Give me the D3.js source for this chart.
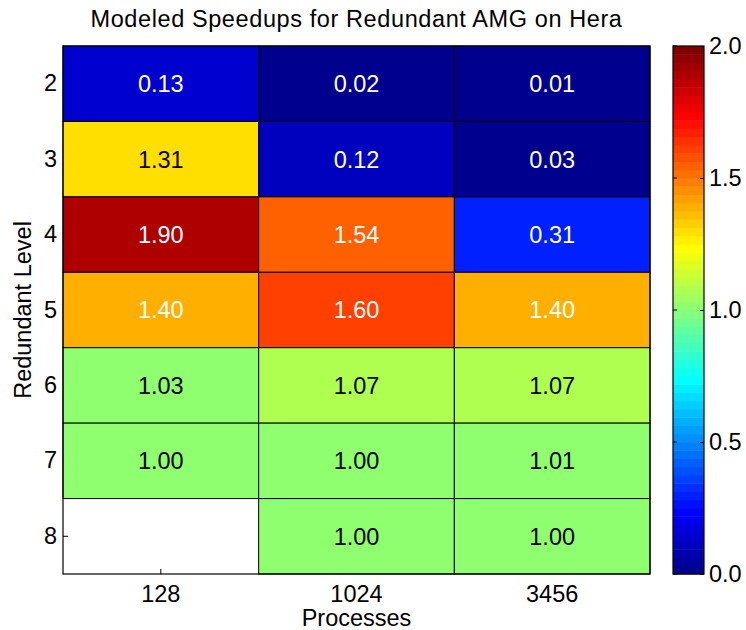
<!DOCTYPE html>
<html>
<head>
<meta charset="utf-8">
<script src="https://cdn.jsdelivr.net/npm/d3@7"></script>
<style>
  body { margin: 0; background: #fff; }
  text { font-family: "Liberation Sans", Arial, Helvetica, sans-serif; }
</style>
</head>
<body>
<div id="chart"></div>
<script>
// data
var levels = [2, 3, 4, 5, 6, 7, 8];
var procs = ["128", "1024", "3456"];
var speedup128  = [0.13, 1.31, 1.90, 1.40, 1.03, 1.00, null];
var speedup1024 = [0.02, 0.12, 1.54, 1.60, 1.07, 1.00, 1.00];
var speedup3456 = [0.01, 0.03, 0.31, 1.40, 1.07, 1.01, 1.00];
var cbTicks = [0, 0.5, 1, 1.5, 2];

var series = [speedup128, speedup1024, speedup3456];
var FS = 23.5;

// matlab jet(64)
function jet64() {
  var m = 64, n = 16, u = [];
  for (var i = 1; i <= n; i++) u.push(i / n);
  for (var i = 1; i < n; i++) u.push(1);
  for (var i = n; i >= 1; i--) u.push(i / n);
  var J = d3.range(m).map(function() { return [0, 0, 0]; });
  var g0 = Math.ceil(n / 2);
  u.forEach(function(v, i) {
    var g = g0 + i + 1, r = g + n, b = g - n;
    if (r >= 1 && r <= m) J[r - 1][0] = v;
    if (g >= 1 && g <= m) J[g - 1][1] = v;
    if (b >= 1 && b <= m) J[b - 1][2] = v;
  });
  return J.map(function(c) {
    return d3.rgb(c[0] * 255, c[1] * 255, c[2] * 255).toString();
  });
}
var jet = jet64();
var color = d3.scaleQuantize().domain([0, 2]).range(jet);

var W = 746, H = 630;
var plot = {left: 63, right: 650, top: 46, bottom: 574};
var cb = {left: 673, right: 704};

var svg = d3.select("#chart").append("svg")
  .attr("width", W)
  .attr("height", H);

var x = d3.scaleBand().domain(procs).range([plot.left, plot.right]);
var y = d3.scaleBand().domain(levels).range([plot.top, plot.bottom]);

// axes (ticks inside, drawn under cells)
var yAxis = svg.append("g")
  .attr("transform", "translate(" + plot.left + ",0)")
  .call(d3.axisLeft(y).tickSize(-5).tickPadding(6));
var xAxis = svg.append("g")
  .attr("transform", "translate(0," + plot.bottom + ")")
  .call(d3.axisBottom(x).tickSize(-5).tickPadding(11));
[yAxis, xAxis].forEach(function(a) {
  a.select(".domain").remove();
  a.selectAll("text").attr("font-size", FS).attr("fill", "#000")
    .attr("font-family", "Liberation Sans, Arial, sans-serif");
  a.selectAll("line").attr("stroke", "#000");
});

// cells
var cells = [];
procs.forEach(function(p, j) {
  levels.forEach(function(l, i) {
    if (series[j][i] != null) cells.push({p: p, l: l, v: series[j][i]});
  });
});

svg.selectAll(".cell")
  .data(cells)
  .enter().append("rect")
  .attr("class", "cell")
  .attr("x", function(d) { return x(d.p); })
  .attr("y", function(d) { return y(d.l); })
  .attr("width", x.bandwidth())
  .attr("height", y.bandwidth())
  .attr("fill", function(d) { return color(d.v); })
  .attr("stroke", "#000")
  .attr("stroke-width", 1);

svg.selectAll(".val")
  .data(cells)
  .enter().append("text")
  .attr("class", "val")
  .attr("x", function(d) { return x(d.p) + x.bandwidth() / 2; })
  .attr("y", function(d) { return y(d.l) + y.bandwidth() / 2; })
  .attr("dy", "0.36em")
  .attr("text-anchor", "middle")
  .attr("font-size", FS)
  .attr("fill", function(d) { return (d.v < 0.5 || d.v > 1.35) ? "#fff" : "#000"; })
  .text(function(d) { return d.v.toFixed(2); });

// frame
svg.append("rect")
  .attr("x", plot.left).attr("y", plot.top)
  .attr("width", plot.right - plot.left)
  .attr("height", plot.bottom - plot.top)
  .attr("fill", "none").attr("stroke", "#000").attr("stroke-width", 1.2);

// colorbar
var cy = d3.scaleLinear().domain([0, 2]).range([plot.bottom, plot.top]);
var step = 2 / jet.length;
svg.selectAll(".cb")
  .data(jet)
  .enter().append("rect")
  .attr("x", cb.left)
  .attr("width", cb.right - cb.left)
  .attr("y", function(d, i) { return cy((i + 1) * step); })
  .attr("height", function(d, i) { return cy(i * step) - cy((i + 1) * step) + 0.5; })
  .attr("fill", function(d) { return d; });

svg.append("rect")
  .attr("x", cb.left).attr("y", plot.top)
  .attr("width", cb.right - cb.left)
  .attr("height", plot.bottom - plot.top)
  .attr("fill", "none").attr("stroke", "#000").attr("stroke-width", 1.2);

var cbAxis = svg.append("g")
  .attr("transform", "translate(" + cb.right + ",0)")
  .call(d3.axisRight(cy).tickValues(cbTicks).tickFormat(d3.format(".1f"))
    .tickSize(-4).tickPadding(5));
cbAxis.select(".domain").remove();
cbAxis.selectAll("text").attr("font-size", FS).attr("fill", "#000")
  .attr("font-family", "Liberation Sans, Arial, sans-serif");
cbAxis.selectAll("line").attr("stroke", "#000");
svg.selectAll(".cbl")
  .data(cbTicks)
  .enter().append("line")
  .attr("x1", cb.left).attr("x2", cb.left + 4)
  .attr("y1", function(d) { return cy(d); })
  .attr("y2", function(d) { return cy(d); })
  .attr("stroke", "#000");

// title & labels
svg.append("text")
  .attr("x", (plot.left + plot.right) / 2)
  .attr("y", 27)
  .attr("text-anchor", "middle")
  .attr("font-size", FS)
  .attr("letter-spacing", 0.6)
  .text("Modeled Speedups for Redundant AMG on Hera");

svg.append("text")
  .attr("x", (plot.left + plot.right) / 2)
  .attr("y", 626)
  .attr("text-anchor", "middle")
  .attr("font-size", FS)
  .text("Processes");

svg.append("text")
  .attr("transform", "translate(31," + (plot.top + plot.bottom) / 2 + ") rotate(-90)")
  .attr("text-anchor", "middle")
  .attr("font-size", FS)
  .text("Redundant Level");
</script>
</body>
</html>
